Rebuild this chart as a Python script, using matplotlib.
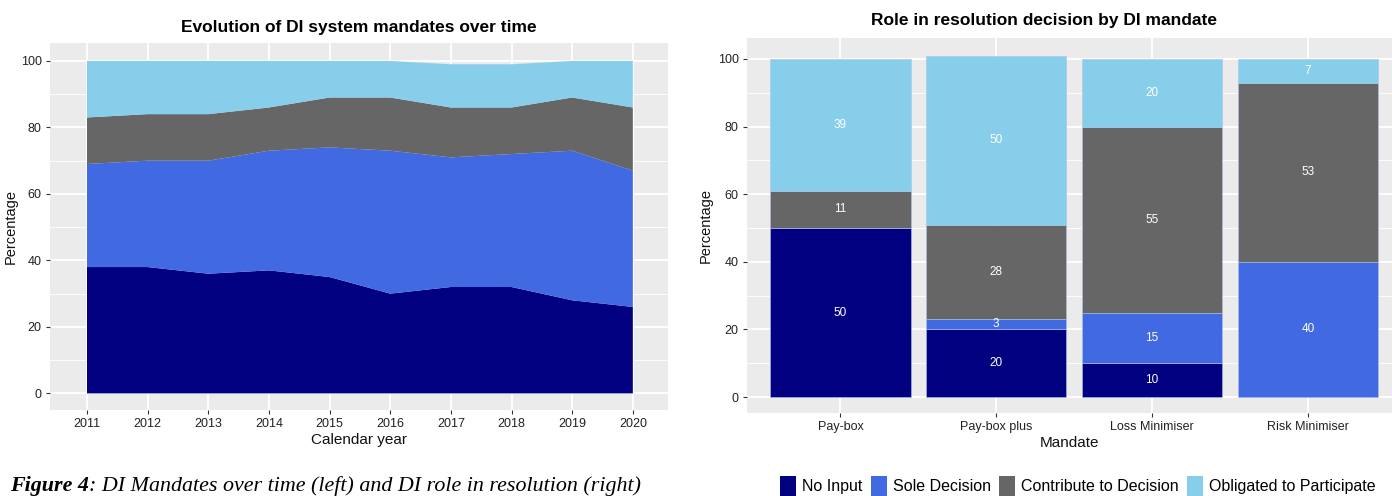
import numpy as np
import matplotlib
matplotlib.use("Agg")
import matplotlib.pyplot as plt
from matplotlib.patches import Patch
from matplotlib.ticker import MultipleLocator

# data: left panel (stacked area, percentage of DIs by mandate)
years = [2011, 2012, 2013, 2014, 2015, 2016, 2017, 2018, 2019, 2020]
no_input_yr = [38, 38, 36, 37, 35, 30, 32, 32, 28, 26]
sole_yr = [31, 32, 34, 36, 39, 43, 39, 40, 45, 41]
contribute_yr = [14, 14, 14, 13, 15, 16, 15, 14, 16, 19]
obligated_yr = [17, 16, 16, 14, 11, 11, 13, 13, 11, 14]

# data: right panel (stacked bars by mandate)
mandates = ["Pay-box", "Pay-box plus", "Loss Minimiser", "Risk Minimiser"]
no_input_m = [50, 20, 10, 0]
sole_m = [0, 3, 15, 40]
contribute_m = [11, 28, 55, 53]
obligated_m = [39, 50, 20, 7]

series_names = ["No Input", "Sole Decision", "Contribute to Decision", "Obligated to Participate"]
colors = ["#000080", "#4169E1", "#666666", "#87CEEB"]

plt.rcParams["font.family"] = ["Liberation Sans", "DejaVu Sans"]

W, H = 1392, 496
fig = plt.figure(figsize=(W / 100, H / 100), dpi=100)


def ax_rect(x0, y0, x1, y1):
    return [x0 / W, 1 - y1 / H, (x1 - x0) / W, (y1 - y0) / H]


def gg_style(ax):
    ax.set_facecolor("#EBEBEB")
    for s in ax.spines.values():
        s.set_visible(False)
    ax.yaxis.set_major_locator(MultipleLocator(20))
    ax.yaxis.set_minor_locator(MultipleLocator(10))
    ax.grid(which="major", color="white", linewidth=1.3)
    ax.grid(which="minor", axis="y", color="white", linewidth=0.6)
    ax.set_axisbelow(True)
    ax.tick_params(which="major", length=3, color="#333333", labelcolor="#222222",
                   labelsize=9, pad=3)
    ax.tick_params(which="minor", length=0)


# ---- left: stacked area
ax1 = fig.add_axes(ax_rect(50, 43, 668, 410))
ax1.stackplot(years, no_input_yr, sole_yr, contribute_yr, obligated_yr,
              colors=colors, linewidth=0)
ax1.set_xlim(2010.39, 2020.58)
ax1.set_ylim(-5, 105.4)
ax1.set_xticks(years)
gg_style(ax1)
ax1.set_xlabel("Calendar year", fontsize=11, labelpad=2, color="#111111")
ax1.set_ylabel("Percentage", fontsize=10.5, color="#111111")
ax1.yaxis.set_label_coords(-0.052, 0.5)
ax1.set_title("Evolution of DI system mandates over time", fontsize=12.5,
              fontweight="bold", pad=8)

# ---- right: stacked bars
ax2 = fig.add_axes(ax_rect(747, 38, 1392, 413))
x = np.arange(1, len(mandates) + 1)
bottom = np.zeros(len(mandates))
for vals, c in zip([no_input_m, sole_m, contribute_m, obligated_m], colors):
    vals = np.array(vals, dtype=float)
    ax2.bar(x, vals, bottom=bottom, width=0.9, color=c, edgecolor="#A9C4E8",
            linewidth=0.4)
    for xi, b, v in zip(x, bottom, vals):
        if v > 0:
            ax2.text(xi, b + v / 2, f"{int(v)}", ha="center", va="center",
                     color="white", fontsize=8.5)
    bottom += vals
ax2.set_xlim(0.4, 4.54)
ax2.set_ylim(-4.7, 106.2)
ax2.set_xticks(x)
ax2.set_xticklabels(mandates)
gg_style(ax2)
ax2.set_xlabel("Mandate", fontsize=11, labelpad=2, color="#111111")
ax2.set_ylabel("Percentage", fontsize=10.5, color="#111111")
ax2.yaxis.set_label_coords(-0.053, 0.5)
ax2.set_title("Role in resolution decision by DI mandate", fontsize=12.5,
              fontweight="bold", pad=9, x=0.46)

# legend
handles = [Patch(facecolor=c, edgecolor="none") for c in colors]
fig.legend(handles, series_names, loc="center", bbox_to_anchor=(1078 / W, 1 - 486 / H),
           ncol=4, frameon=False, fontsize=11.5, handlelength=1.0, handleheight=1.5,
           handletextpad=0.4, columnspacing=0.5, borderaxespad=0, borderpad=0)

# caption
serif = ["Liberation Serif", "DejaVu Serif"]
t1 = fig.text(10 / W, 1 - 486 / H, "Figure 4", family=serif, style="italic",
              fontweight="bold", fontsize=15.8, va="center", ha="left")
fig.canvas.draw()
bb = t1.get_window_extent()
fig.text(bb.x1 / W, 1 - 486 / H, ": DI Mandates over time (left) and DI role in resolution (right)",
         family=serif, style="italic", fontsize=15.8, va="center", ha="left")

fig.savefig("out.png", dpi=100)
